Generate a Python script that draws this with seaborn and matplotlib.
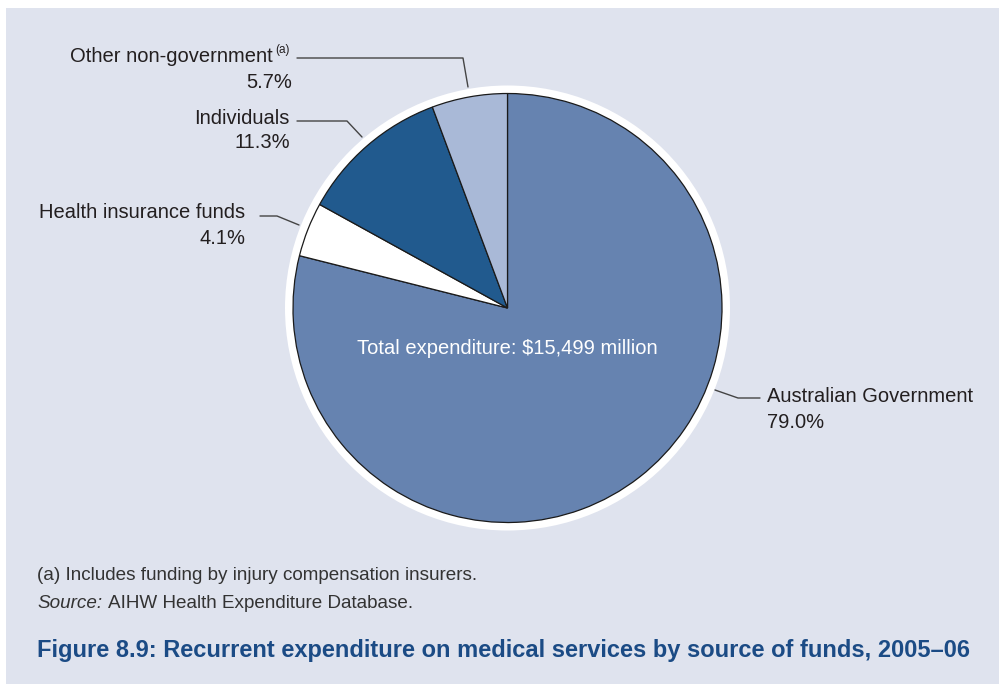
import matplotlib
matplotlib.use("Agg")
import matplotlib.pyplot as plt
from matplotlib.patches import Circle, Rectangle
import seaborn as sns

# Source of funds for recurrent medical services expenditure, 2005-06
sources = ["Australian Government", "Health insurance funds", "Individuals", "Other non-government"]
shares = [79.0, 4.1, 11.3, 5.7]
share_labels = ["79.0%", "4.1%", "11.3%", "5.7%"]
slice_colors = ["#6683b0", "#ffffff", "#215a8e", "#a9b9d7"]
total_text = "Total expenditure: $15,499 million"
footnote = "(a) Includes funding by injury compensation insurers."
source_note = "AIHW Health Expenditure Database."
title = "Figure 8.9: Recurrent expenditure on medical services by source of funds, 2005\u201306"

sns.set_theme(style="white")
plt.rcParams["font.family"] = ["Liberation Sans", "DejaVu Sans"]

W, H = 999, 684
BG = "#dfe3ee"
INK = "#231f20"
fig = plt.figure(figsize=(W / 100, H / 100), dpi=100, facecolor="white")
ax = fig.add_axes([0, 0, 1, 1])

# Panel background with a thin white margin top/left
ax.add_patch(Rectangle((6, 8), W - 6, H - 8, facecolor=BG, edgecolor="none", zorder=0))

cx, cy, r = 507.5, 308, 214.5
ax.add_patch(Circle((cx, cy), r + 8, facecolor="white", edgecolor="none", zorder=1))

# y axis is inverted below, so counterclock=True runs clockwise on screen
wedges, _ = ax.pie(shares, colors=slice_colors, startangle=-90, counterclock=True,
                   center=(cx, cy), radius=r, frame=True,
                   wedgeprops=dict(edgecolor="#1a1a1a", linewidth=0.9))
for w in wedges:
    w.set_zorder(2)
ax.set_xlim(0, W)
ax.set_ylim(H, 0)
ax.set_aspect("equal")
ax.axis("off")

fs = 14.5
lc = "#444444"
lw = 1.0

# Leader lines
ax.plot([297, 463, 468], [58, 58, 87], color=lc, lw=lw, zorder=3)
ax.plot([297, 347, 362], [121, 121, 137], color=lc, lw=lw, zorder=3)
ax.plot([260, 277, 299], [216, 216, 225], color=lc, lw=lw, zorder=3)
ax.plot([715, 738, 760], [390, 398, 398], color=lc, lw=lw, zorder=3)

# Labels
ax.text(273, 57, sources[3], ha="right", va="center", fontsize=fs, color=INK)
ax.text(275, 50, "(a)", ha="left", va="center", fontsize=8.5, color=INK)
ax.text(292, 82, share_labels[3], ha="right", va="center", fontsize=fs, color=INK)
ax.text(290, 119, sources[2], ha="right", va="center", fontsize=fs, color=INK)
ax.text(290, 143, share_labels[2], ha="right", va="center", fontsize=fs, color=INK)
ax.text(245, 213, sources[1], ha="right", va="center", fontsize=fs, color=INK)
ax.text(245, 238, share_labels[1], ha="right", va="center", fontsize=fs, color=INK)
ax.text(767, 397, sources[0], ha="left", va="center", fontsize=fs, color=INK)
ax.text(767, 422, share_labels[0], ha="left", va="center", fontsize=fs, color=INK)

ax.text(507, 348, total_text, ha="center", va="center", fontsize=fs, color="white", zorder=4)

# Notes and title
nfs = 13.6
ax.text(37, 575, footnote, ha="left", va="center", fontsize=nfs, color="#333333")
src = ax.text(37, 603, "Source:", ha="left", va="center", fontsize=nfs, color="#333333",
              style="italic")
ax.annotate(source_note, xy=(1, 0), xycoords=src, xytext=(4, 0), textcoords="offset points",
            ha="left", va="bottom", fontsize=nfs, color="#333333")
ax.text(37, 651, title, ha="left", va="center", fontsize=17, color="#1b4b85", fontweight="bold")

fig.savefig("out.png", dpi=100, facecolor="white")
